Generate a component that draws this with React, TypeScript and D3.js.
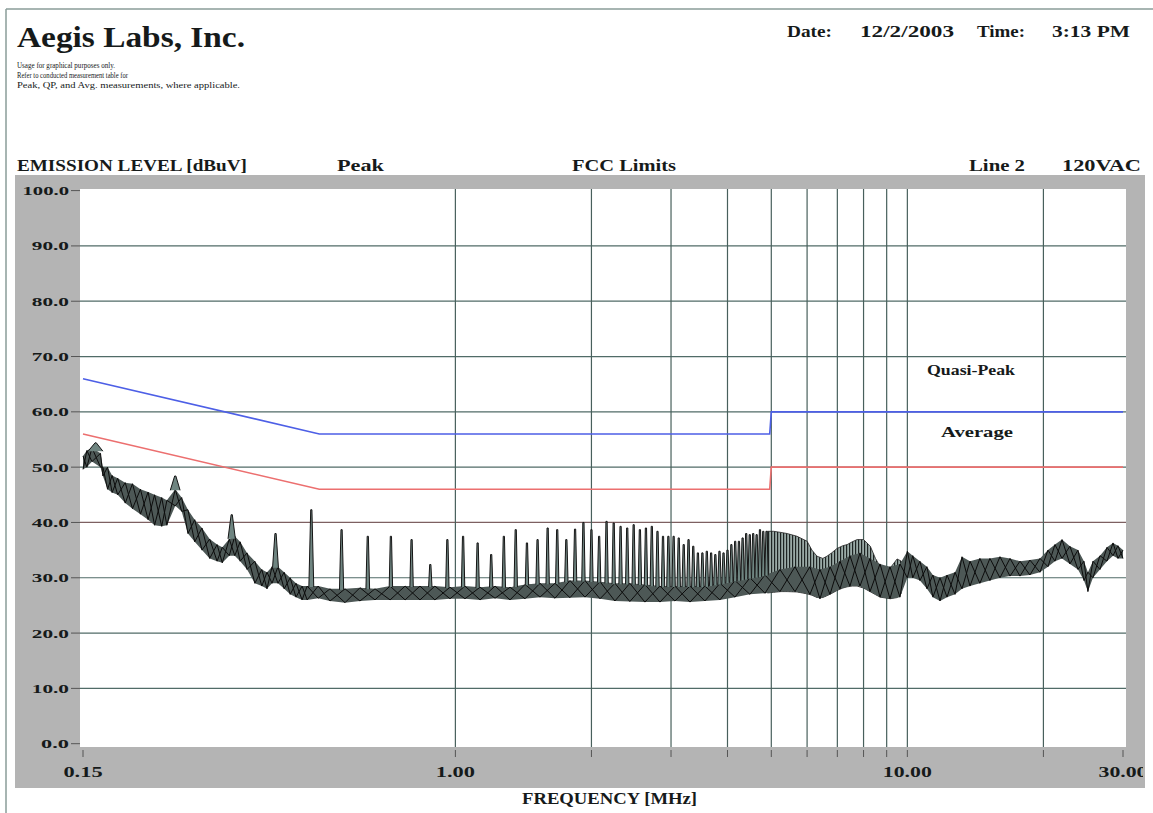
import * as d3 from "d3";

// y axis (dBuV) and x axis (MHz, log)
const yTicks = [0, 10, 20, 30, 40, 50, 60, 70, 80, 90, 100];
const xLabelVals = [0.15, 1, 10, 30];
const xLabels = ["0.15", "1.00", "10.00", "30.00"];
const xGridVals = [1, 2, 3, 4, 5, 6, 7, 8, 9, 10, 20];
const xTickVals = [0.15, 1, 2, 3, 4, 5, 6, 7, 8, 9, 10, 20, 30];

// FCC limits
const qpFreq = [0.15, 0.5, 4.96, 5.0, 30];
const qpLevel = [66, 56, 56, 60, 60];
const avgFreq = [0.15, 0.5, 4.96, 5.0, 30];
const avgLevel = [56, 46, 46, 50, 50];

// peak trace: noise floor envelope (low / high edge of the trace)
const envFreq = [
  0.15, 0.153, 0.157, 0.164, 0.166, 0.17, 0.174, 0.179, 0.186, 0.193,
  0.201, 0.209, 0.216, 0.224, 0.23, 0.24, 0.248, 0.256, 0.265, 0.275,
  0.286, 0.297, 0.305, 0.316, 0.325, 0.334, 0.346, 0.36, 0.373, 0.383,
  0.393, 0.405, 0.418, 0.431, 0.444, 0.458, 0.47, 0.497, 0.528, 0.57,
  0.615, 0.664, 0.717, 0.774, 0.835, 0.901, 0.973, 1.05, 1.134, 1.224,
  1.321, 1.426, 1.539, 1.661, 1.793, 1.935, 2.089, 2.254, 2.432, 2.626,
  2.835, 3.06, 3.304, 3.565, 3.849, 4.155, 4.485, 4.842, 5.225, 5.641,
  6.087, 6.406, 6.743, 7.095, 7.464, 7.856, 8.267, 8.7, 9.153, 9.63,
  10.0, 10.28, 10.66, 11.05, 11.39, 11.81, 12.24, 12.75, 13.21, 13.76,
  14.47, 15.23, 16.03, 16.87, 17.75, 18.67, 19.65, 20.47, 21.21, 21.99,
  22.89, 23.85, 24.59, 25.09, 25.74, 26.68, 27.65, 28.51, 29.24, 30.0,
];
const envLo = [
  49.6, 50, 51, 50, 48.4, 46, 45.4, 45, 43.5, 42.5,
  41.5, 40.5, 39.5, 39.3, 39.5, 43, 42, 38, 36.5, 35,
  33.5, 33, 32.7, 34, 34, 33, 31.5, 29, 28.5, 28,
  29, 29, 28, 27, 26.5, 26, 26, 26.3, 25.8, 25.5,
  25.8, 26, 26, 26, 26, 26, 26.2, 26.2, 26, 26.3,
  26, 26.2, 26.5, 26.3, 26.4, 26.5, 26.2, 25.8, 25.7, 25.6,
  25.6, 25.8, 25.6, 25.8, 26, 26.5, 27, 27.2, 27.5, 27.5,
  27, 26.2, 27, 28, 28.5, 28.5, 27.5, 26.5, 26.2, 26.5,
  30, 30, 29.5, 28, 26.5, 25.8, 26.5, 27, 28, 28.5,
  29, 29.5, 30, 30.3, 30.3, 30.5, 31, 32, 33, 33.5,
  32.5, 31.5, 29.5, 27.5, 30, 31.5, 33, 34, 33.5, 33.5,
];
const envHi = [
  52, 53, 53.5, 52.5, 50, 50, 48.5, 48, 47.2, 47,
  46, 45.5, 45, 44.5, 44, 46, 44.5, 42.3, 40.5, 39,
  37, 36, 35.5, 37, 37.5, 36.5, 34.5, 33, 31.5, 31,
  32, 32, 31, 30, 29, 28.5, 28.5, 28.5, 28, 28,
  28.2, 28, 28.5, 28.5, 28.5, 28.5, 28.3, 28.5, 28.3, 28.5,
  28.3, 28.8, 29, 29, 29.5, 29.5, 29.3, 29, 29, 28.8,
  28.5, 28.5, 28.5, 28.5, 29, 29.5, 30, 30.5, 31.5, 32,
  32, 31.5, 32, 33, 34, 34.5, 33.5, 32.5, 32, 32.5,
  34.8, 34, 33, 32, 30.5, 30, 30.5, 31, 33.8, 33,
  33.5, 33.5, 33.8, 33.5, 33, 33.2, 33.5, 35, 36, 36.9,
  35.7, 35, 33, 31, 33, 34, 35.5, 36.3, 35.8, 35,
];

// harmonic peaks (80 kHz family)
const spikeFreq = [
  0.16, 0.24, 0.32, 0.4, 0.48, 0.56, 0.64, 0.72, 0.8, 0.88,
  0.96, 1.04, 1.12, 1.2, 1.28, 1.36, 1.44, 1.52, 1.6, 1.68,
  1.76, 1.84, 1.92, 2.0, 2.08, 2.16, 2.24, 2.32, 2.4, 2.48,
  2.56, 2.64, 2.72, 2.8, 2.88, 2.96, 3.04, 3.12, 3.2, 3.28,
  3.36, 3.44, 3.52, 3.6, 3.68, 3.76, 3.84, 3.92, 4.0, 4.08,
  4.16, 4.24, 4.32, 4.4, 4.48, 4.56, 4.64, 4.72, 4.8, 4.88,
];
const spikePeak = [
  54.4, 48.4, 41.4, 38, 42.3, 38.7, 37.5, 37.5, 36.9, 32.4,
  36.9, 37.5, 36.3, 34.2, 37.5, 38.7, 36.3, 36.9, 39, 38.7,
  36.9, 38.8, 40, 38.7, 37.5, 40.2, 39.9, 39.3, 39, 39.6,
  38.7, 39, 39.3, 38.4, 37.5, 37.5, 37.5, 37.2, 36, 36.9,
  35.7, 34.5, 34.5, 34.8, 34.5, 34.2, 34.8, 34.5, 35, 36,
  36.6, 36.6, 37.2, 38, 37.8, 38, 37.8, 38.7, 38.4, 38.4,
];

// 5-10 MHz: harmonics too dense to separate, top of the cluster
const clusterFreq = [4.9, 5.06, 5.25, 5.42, 5.7, 6.0, 6.15, 6.31, 6.5, 6.64, 6.8, 6.99, 7.2, 7.36, 7.55, 7.74, 8.0, 8.28, 8.5, 8.71, 9.17, 9.49, 9.7];
const clusterTop = [38.4, 38.4, 38.2, 38, 37.5, 36.6, 35, 33.9, 33.5, 33.9, 34.5, 35.3, 35.8, 36, 36.5, 36.9, 36.9, 35.7, 33.5, 32, 31.8, 33.4, 33];

const W = 1153;
const H = 813;
const serif = "'Liberation Serif', 'Times New Roman', serif";
const ink = "#161a1a";

type Env = { f: number; lo: number; hi: number };

export default function App() {
  const x = d3.scaleLog().domain([0.15, 30]).range([83, 1123]);
  const y = d3.scaleLinear().domain([0, 100]).range([743.7, 190.6]);
  const plot = { l: 80, r: 1126, t: 189, b: 747 };

  const loAt = d3.scaleLog().domain(envFreq).range(envLo);
  const hiAt = d3.scaleLog().domain(envFreq).range(envHi);

  const env: Env[] = envFreq.map((f, i) => ({ f, lo: envLo[i], hi: envHi[i] }));
  const envArea = d3.area<Env>().x((d) => x(d.f)).y0((d) => y(d.lo)).y1((d) => y(d.hi));
  // scribble: run between the low and high edge of the trace
  const zig = (odd: number) =>
    d3.line<Env>().x((d) => x(d.f)).y((d, i) => y(i % 2 === odd ? d.lo : d.hi))(env) ?? "";

  const cluster: Env[] = clusterFreq.map((f, i) => ({ f, lo: loAt(f), hi: clusterTop[i] }));

  const limitLine = d3.line<[number, number]>();
  const qpPath = limitLine(qpFreq.map((f, i) => [x(f), y(qpLevel[i])] as [number, number]));
  const avgPath = limitLine(avgFreq.map((f, i) => [x(f), y(avgLevel[i])] as [number, number]));

  const spikes = spikeFreq.map((f, i) => {
    const xp = x(f);
    const x0 = Math.min(x(f - 0.006), xp - 1.7);
    const x1 = Math.max(x(f + 0.006), xp + 1.7);
    const yb = y(hiAt(f)) + 1;
    const yp = y(spikePeak[i]);
    return `M${x0},${yb}L${xp - 0.6},${yp}L${xp + 0.6},${yp}L${x1},${yb}`;
  });

  return (
    <svg width={W} height={H} viewBox={`0 0 ${W} ${H}`}
      style={{ position: "absolute", left: 0, top: 0, display: "block", background: "#fff" }}>
      <defs>
        <clipPath id="plotClip">
          <rect x={plot.l} y={plot.t} width={plot.r - plot.l} height={plot.b - plot.t} />
        </clipPath>
        <clipPath id="frameClip">
          <rect x={0} y={0} width={1143} height={H} />
        </clipPath>
        <pattern id="hatch" width={3} height={6} patternUnits="userSpaceOnUse">
          <rect width={3} height={6} fill="#9aaaa6" />
          <rect width={1.2} height={6} fill="#1e2423" />
        </pattern>
      </defs>

      {/* page border */}
      <line x1={6} x2={W} y1={9} y2={9} stroke="#8a9d99" strokeWidth={1.5} />
      <line x1={6} x2={6} y1={9} y2={H} stroke="#8a9d99" strokeWidth={1.5} />

      {/* header */}
      <g fontFamily={serif} fill={ink}>
        <text x={17} y={47} fontSize={30} fontWeight="bold" textLength={228} lengthAdjust="spacingAndGlyphs">Aegis Labs, Inc.</text>
        <text x={17} y={67.5} fontSize={8.5} textLength={98} lengthAdjust="spacingAndGlyphs">Usage for graphical purposes only.</text>
        <text x={17} y={77.5} fontSize={8.5} textLength={111} lengthAdjust="spacingAndGlyphs">Refer to conducted measurement table for</text>
        <text x={17} y={87.5} fontSize={8.5} textLength={223} lengthAdjust="spacingAndGlyphs">Peak, QP, and Avg. measurements, where applicable.</text>
        <g fontSize={17} fontWeight="bold">
          <text x={787} y={37} textLength={45} lengthAdjust="spacingAndGlyphs">Date:</text>
          <text x={860} y={37} textLength={94} lengthAdjust="spacingAndGlyphs">12/2/2003</text>
          <text x={977} y={37} textLength={48} lengthAdjust="spacingAndGlyphs">Time:</text>
          <text x={1052} y={37} textLength={78} lengthAdjust="spacingAndGlyphs">3:13 PM</text>
        </g>
        <g fontSize={17} fontWeight="bold">
          <text x={17} y={171} textLength={230} lengthAdjust="spacingAndGlyphs">EMISSION LEVEL [dBuV]</text>
          <text x={337} y={171} textLength={47} lengthAdjust="spacingAndGlyphs">Peak</text>
          <text x={572} y={171} textLength={104} lengthAdjust="spacingAndGlyphs">FCC Limits</text>
          <text x={969} y={171} textLength={56} lengthAdjust="spacingAndGlyphs">Line 2</text>
          <text x={1062} y={171} textLength={79} lengthAdjust="spacingAndGlyphs">120VAC</text>
        </g>
      </g>

      {/* gray frame and plot area */}
      <rect x={15} y={175} width={1130} height={613} fill="#b4b4b4" />
      <rect x={plot.l} y={plot.t} width={plot.r - plot.l} height={plot.b - plot.t} fill="#fff" />

      {/* grid */}
      <g>
        {yTicks.filter((v) => v > 0 && v < 100).map((v) => (
          <line key={`h${v}`} x1={plot.l} x2={plot.r} y1={y(v)} y2={y(v)}
            stroke={v === 40 ? "#7d6061" : "#506b67"} strokeWidth={1.2} />
        ))}
        {xGridVals.map((f) => (
          <line key={`v${f}`} x1={x(f)} x2={x(f)} y1={plot.t} y2={plot.b} stroke="#48605c" strokeWidth={1.2} />
        ))}
      </g>

      {/* y axis */}
      <g fontFamily={serif} fontWeight="bold" fontSize={12.5} fill={ink}>
        {yTicks.map((v) => {
          const label = v.toFixed(1);
          return (
            <g key={`yt${v}`}>
              <line x1={71} x2={80} y1={y(v)} y2={y(v)} stroke="#555" strokeWidth={1} />
              <text x={69} y={y(v) + 4.5} textAnchor="end" textLength={label.length * 9.3} lengthAdjust="spacingAndGlyphs">{label}</text>
            </g>
          );
        })}
      </g>

      {/* x axis */}
      <g clipPath="url(#frameClip)" fontFamily={serif} fontWeight="bold" fontSize={15} fill={ink}>
        {xTickVals.map((f) => (
          <line key={`xt${f}`} x1={x(f)} x2={x(f)} y1={750} y2={757} stroke="#555" strokeWidth={1} />
        ))}
        {xLabelVals.map((f, i) => (
          <text key={`xl${f}`} x={x(f)} y={777} textAnchor="middle"
            textLength={xLabels[i].length * 9.8} lengthAdjust="spacingAndGlyphs">{xLabels[i]}</text>
        ))}
      </g>
      <text x={522} y={804} fontFamily={serif} fontWeight="bold" fontSize={16} fill={ink}
        textLength={175} lengthAdjust="spacingAndGlyphs">FREQUENCY [MHz]</text>

      {/* trace */}
      <g clipPath="url(#plotClip)">
        <path d={envArea(cluster) ?? ""} fill="url(#hatch)" stroke="#222" strokeWidth={0.8} />
        <path d={envArea(env) ?? ""} fill="#4d5856" />
        <path d={zig(0)} fill="none" stroke="#0c0c0c" strokeWidth={1} />
        <path d={zig(1)} fill="none" stroke="#0c0c0c" strokeWidth={1} />
        {spikes.map((d, i) => (
          <path key={`s${i}`} d={d} fill="#6f8581" stroke="#151515" strokeWidth={1} strokeLinejoin="round" />
        ))}
        <path d={qpPath ?? ""} fill="none" stroke="#4d5fe6" strokeWidth={1.6} />
        <path d={avgPath ?? ""} fill="none" stroke="#ec6f6f" strokeWidth={1.6} />
      </g>

      <g fontFamily={serif} fontWeight="bold" fontSize={14} fill={ink}>
        <text x={927} y={375} textLength={88} lengthAdjust="spacingAndGlyphs">Quasi-Peak</text>
        <text x={941} y={437} textLength={72} lengthAdjust="spacingAndGlyphs">Average</text>
      </g>
    </svg>
  );
}
